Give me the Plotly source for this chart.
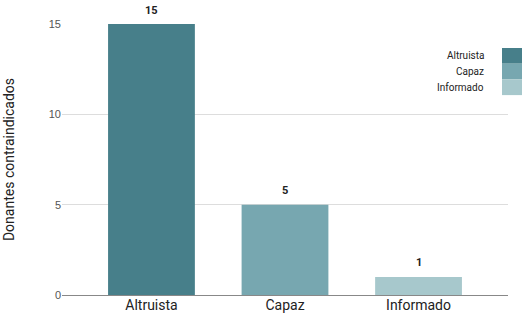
import plotly.graph_objects as go

categories = ["Altruista", "Capaz", "Informado"]
values = [15, 5, 1]
colors = ["#477f8a", "#77a7b0", "#a7c8cc"]
y_ticks = [0, 5, 10, 15]

# plot area in page px: x 62..508, y 24..295
L, R, T, B = 62, 508, 24, 295
PW, PH = R - L, B - T

fig = go.Figure()
fig.add_trace(go.Bar(
    x=categories, y=values,
    marker=dict(color=colors, line=dict(width=0)),
    width=0.65,
    showlegend=False,
    hoverinfo="skip",
))

for cat, v in zip(categories, values):
    fig.add_annotation(x=cat, y=v, xref="x", yref="y", text=f"<b>{v}</b>", showarrow=False,
                       yanchor="middle", yshift=14,
                       font=dict(family="Roboto", size=11, color="#222222"))

fig.update_layout(
    width=527, height=318,
    margin=dict(l=L, r=527 - R, t=T, b=318 - B),
    paper_bgcolor="white", plot_bgcolor="white",
    font=dict(family="Roboto", color="#222222"),
    xaxis=dict(range=[-0.67, 2.67], showgrid=False, ticks="", automargin=False,
               tickfont=dict(size=14, color="#222222"), showline=False),
    yaxis=dict(range=[0, 15], tickvals=y_ticks, showgrid=True, gridcolor="#dddddd",
               gridwidth=1, zeroline=True, zerolinecolor="#888888", zerolinewidth=1,
               automargin=False,
               tickfont=dict(family="Arial", size=11, color="#555555"), ticks="",
               title=dict(text="Donantes contraindicados", font=dict(size=14, color="#222222"),
                          standoff=30)),
)

# legend replica: labels right-aligned, swatches on the right
SW_TOP, SW_H = 48, 15.7
for i, cat in enumerate(categories):
    top_px = SW_TOP + i * SW_H
    bot_px = top_px + SW_H
    y0 = (B - bot_px) / PH
    y1 = (B - top_px) / PH
    x0 = (502 - L) / PW
    x1 = (522 - L) / PW
    fig.add_shape(type="rect", xref="paper", yref="paper", x0=x0, x1=x1, y0=y0, y1=y1,
                  fillcolor=colors[i], line=dict(width=0))
    fig.add_annotation(x=(486 - L) / PW, y=(y0 + y1) / 2, xref="paper", yref="paper",
                       text=cat, showarrow=False, xanchor="right", yanchor="middle",
                       font=dict(size=10, color="#222222"))

fig.write_html("out.html", config={"displayModeBar": False},
               post_script="document.body.style.margin='0';")
